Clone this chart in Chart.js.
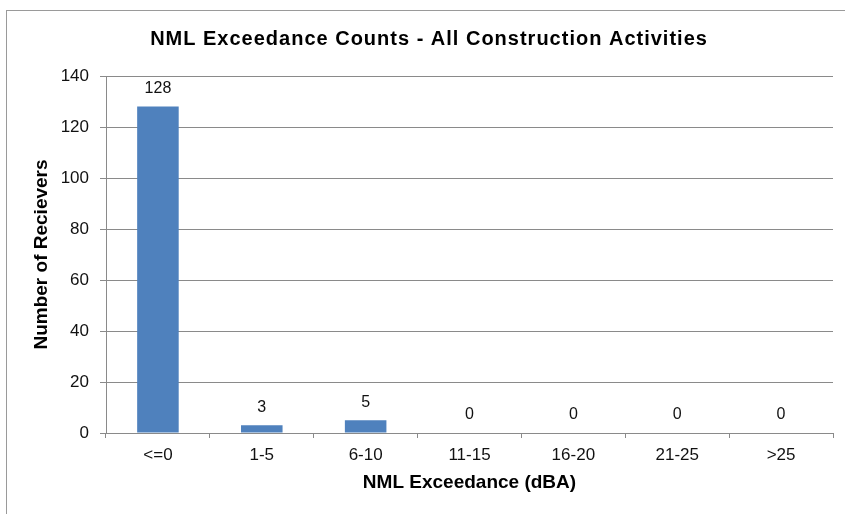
<!DOCTYPE html>
<html>
<head>
<meta charset="utf-8">
<script src="https://cdn.jsdelivr.net/npm/chart.js@4"></script>
<style>
  html, body { margin: 0; padding: 0; background: #fff; overflow: hidden; }
  #wrap { position: relative; width: 845px; height: 514px; }
  #frame {
    position: absolute; left: 6px; top: 10px; width: 900px; height: 600px;
    border-top: 1px solid #9a9a9a; border-left: 1px solid #9a9a9a;
  }
  canvas { position: absolute; left: 0; top: 0; }
</style>
</head>
<body>
<div id="wrap">
  <div id="frame"></div>
  <canvas id="chart" width="845" height="514"></canvas>
</div>
<script>
// exceedance bands and receiver counts
const bands = ['<=0', '1-5', '6-10', '11-15', '16-20', '21-25', '>25'];
const receivers = [128, 3, 5, 0, 0, 0, 0];
const yTicks = [0, 20, 40, 60, 80, 100, 120, 140];
const chartTitle = 'NML Exceedance Counts - All Construction Activities';

const FONT = 'Arial, "Liberation Sans", sans-serif';
const GRID = '#8a8a8a';

// heading, drawn by hand so it can sit a bit right of the plot centre
const heading = {
    id: 'heading',
    afterDraw(chart) {
        const ctx = chart.ctx;
        ctx.save();
        ctx.font = 'bold 20px ' + FONT;
        ctx.letterSpacing = '1px';
        ctx.fillStyle = '#000';
        ctx.textAlign = 'center';
        ctx.textBaseline = 'middle';
        ctx.fillText(chartTitle, 429, 39);
        ctx.restore();
    }
};

// value labels above each bar
const barValues = {
    id: 'barValues',
    afterDatasetsDraw(chart) {
        const ctx = chart.ctx;
        const meta = chart.getDatasetMeta(0);
        ctx.save();
        ctx.font = '16px ' + FONT;
        ctx.fillStyle = '#111';
        ctx.textAlign = 'center';
        ctx.textBaseline = 'middle';
        meta.data.forEach((bar, i) => {
            ctx.fillText(String(receivers[i]), bar.x, bar.y - 18);
        });
        ctx.restore();
    }
};

new Chart(document.getElementById('chart'), {
    type: 'bar',
    data: {
        labels: bands,
        datasets: [{
            data: receivers,
            backgroundColor: '#4F81BD',
            borderWidth: 0,
            barPercentage: 0.4,
            categoryPercentage: 1.0
        }]
    },
    options: {
        responsive: false,
        animation: false,
        layout: { padding: { left: 0, right: 12, top: 76, bottom: 0 } },
        plugins: {
            legend: { display: false },
            tooltip: { enabled: false },
            title: { display: false }
        },
        scales: {
            x: {
                grid: {
                    display: true,
                    drawOnChartArea: false,
                    drawTicks: true,
                    tickLength: 5,
                    color: GRID,
                    offset: true
                },
                border: { display: true, color: GRID, width: 1 },
                ticks: {
                    color: '#111',
                    font: { family: FONT, size: 17 },
                    padding: 7,
                    maxRotation: 0
                },
                title: {
                    display: true,
                    text: 'NML Exceedance (dBA)',
                    color: '#000',
                    font: { family: FONT, size: 19, weight: 'bold' },
                    padding: { top: 0, bottom: 20 }
                },
                afterFit(scale) { scale.height = 81; }
            },
            y: {
                min: 0,
                max: 140,
                afterBuildTicks(scale) {
                    scale.ticks = yTicks.map(v => ({ value: v }));
                },
                grid: {
                    color: GRID,
                    tickLength: 6,
                    drawTicks: true
                },
                border: { display: true, color: GRID, width: 1 },
                ticks: {
                    color: '#111',
                    font: { family: FONT, size: 17 },
                    padding: 11
                },
                title: {
                    display: true,
                    text: 'Number of Recievers',
                    color: '#000',
                    font: { family: FONT, size: 19, weight: 'bold' },
                    padding: { top: 30, bottom: 0 }
                },
                afterFit(scale) { scale.width = 106; }
            }
        }
    },
    plugins: [barValues, heading]
});
</script>
</body>
</html>
